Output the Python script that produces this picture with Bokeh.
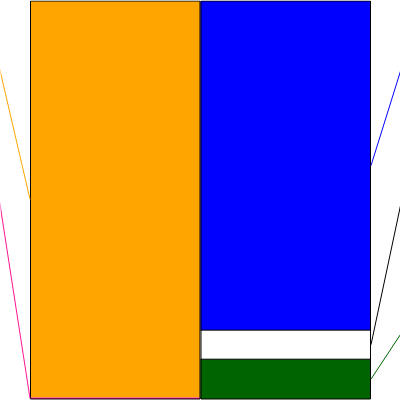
from bokeh.plotting import figure
from bokeh.models import Range1d, ColumnDataSource
from bokeh.embed import file_html
from bokeh.resources import INLINE

# ---- data (percent of each bar, listed top to bottom) ----
bar_names = ["left", "right"]
left_segments = ["A", "B"]
left_values = [99.6, 0.4]
right_segments = ["C", "D", "E"]
right_values = [82.7, 7.3, 10.0]

# ---- styles ----
left_colors = ["#FFA500", "#FF1493"]
right_colors = ["#0000FF", "#FFFFFF", "#006400"]
left_lead_colors = ["#FFA500", "#FF1493"]
right_lead_colors = ["#0000FF", "#000000", "#006400"]
left_edge_lines = [None, None]
right_edge_lines = ["black", "black", "black"]

W = H = 400
p = figure(width=W, height=H, output_backend="svg", toolbar_location=None,
           x_range=Range1d(-0.173, 2.173), y_range=Range1d(-0.377, 100.126),
           min_border=0, min_border_left=0, min_border_right=0,
           min_border_top=0, min_border_bottom=0)
p.axis.visible = False
p.grid.visible = False
p.outline_line_color = None
p.background_fill_color = "white"


def stack(values):
    tops, bottoms = [], []
    t = 100.0
    for v in values:
        tops.append(t)
        bottoms.append(t - v)
        t -= v
    return tops, bottoms


slots = [100 * 5 / 6, 100 * 3 / 6, 100 * 1 / 6]

for i, (vals, cols, lines, leads) in enumerate([
        (left_values, left_colors, left_edge_lines, left_lead_colors),
        (right_values, right_colors, right_edge_lines, right_lead_colors)]):
    tops, bottoms = stack(vals)
    x = i + 0.5
    src = ColumnDataSource(dict(x=[x] * len(vals), top=tops, bottom=bottoms,
                                color=cols))
    p.vbar(x="x", top="top", bottom="bottom", width=1.0, fill_color="color",
           line_color=None, source=src)
    for t, b, lc in zip(tops, bottoms, lines):
        if lc is not None and b > 0.01:
            p.segment(x0=[i], x1=[i + 1], y0=[b], y1=[b], line_color=lc,
                      line_width=1)
    # whole bar outline
    p.vbar(x=[x], top=[100], bottom=[0], width=0.994, fill_color=None,
           line_color="black", line_width=1)
    # leader lines
    mids = [(t + b) / 2 for t, b in zip(tops, bottoms)]
    if i == 0:
        xe, xb = -0.18, 0.0
    else:
        xe, xb = 2.18, 2.0
    for m, s, lc in zip(mids, slots, leads):
        p.segment(x0=[xe], y0=[s], x1=[xb], y1=[m], line_color=lc,
                  line_width=1)

open("out.html", "w").write(file_html(p, INLINE))
